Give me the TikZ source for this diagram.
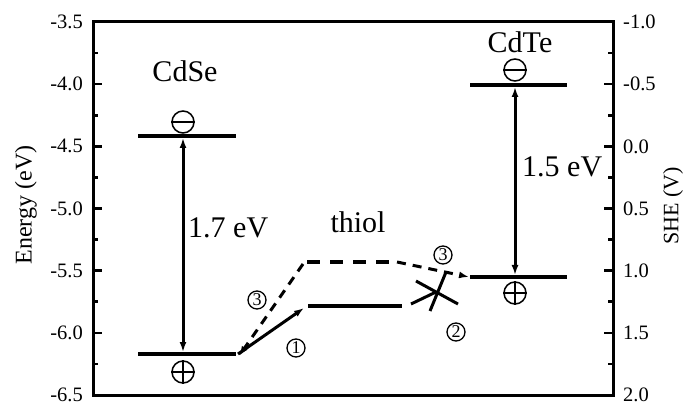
\documentclass[tikz,border=0pt]{standalone}
\usepackage{fontspec}
\setmainfont{Liberation Serif}
\usetikzlibrary{arrows.meta}
\tikzset{mytip/.tip={Latex[length=10pt,width=7pt]}}
\begin{document}
\begin{tikzpicture}[x=1pt,y=-1pt,
  frame/.style={line width=3pt},
  tick/.style={line width=2.6pt},
  level/.style={line width=3.2pt},
  gap/.style={line width=3pt},
  trans/.style={line width=3pt},
  dashtrans/.style={line width=3pt,dash pattern=on 9pt off 7pt},
  ticklab/.style={font=\fontsize{20.5}{22}\selectfont,inner sep=0pt},
  axlab/.style={font=\fontsize{22}{24}\selectfont,rotate=90,inner sep=0pt},
  biglab/.style={font=\fontsize{30}{32}\selectfont,inner sep=0pt},
  charge/.style={circle,draw,line width=1.5pt,minimum size=22pt,inner sep=0pt},
  num/.style={circle,draw,line width=1.3pt,minimum size=18pt,inner sep=0pt,font=\fontsize{18}{18}\selectfont}
]
\useasboundingbox (0,0) rectangle (687,411);
% frame
\draw[frame] (93,22) rectangle (613,395);
% ticks and labels
\foreach \k/\l/\r in {0/-3.5/-1.0,1/-4.0/-0.5,2/-4.5/0.0,3/-5.0/0.5,4/-5.5/1.0,5/-6.0/1.5,6/-6.5/2.0}{
  \pgfmathsetmacro{\yy}{22+\k*62.1667}
  \draw[tick] (93,\yy) -- (102,\yy);
  \draw[tick] (613,\yy) -- (604,\yy);
  \node[ticklab,anchor=east] (ll\k) at (83,\yy) {\l};
  \node[ticklab,anchor=west] (rl\k) at (623,\yy) {\r};
}
\foreach \k in {0,...,5}{
  \pgfmathsetmacro{\yy}{22+31.083+\k*62.1667}
  \draw[tick] (93,\yy) -- (98,\yy);
  \draw[tick] (613,\yy) -- (608,\yy);
}
\node[axlab,font=\fontsize{24}{26}\selectfont] (ylab) at (26,205) {Energy (eV)};
\node[axlab] (slab) at (673,206) {SHE (V)};

% CdSe
\node[biglab] (cdse) at (185,71) {CdSe};
\coordinate (seCBl) at (138,136); \coordinate (seCBr) at (236,136);
\coordinate (seVBl) at (138,354); \coordinate (seVBr) at (236,354);
\draw[level] (seCBl) -- (seCBr);
\draw[level] (seVBl) -- (seVBr);
\coordinate (seA) at (183,138); \coordinate (seB) at (183,352);
\draw[gap,mytip-mytip] (seA) -- (seB);
\node[charge] (seM) at (183,122) {};
\draw[line width=1.5pt] (seM.west) -- (seM.east);
\node[charge] (seP) at (183,372) {};
\draw[line width=1.5pt] (seP.west) -- (seP.east) (seP.north) -- (seP.south);
\node[biglab,anchor=west] (g1) at (188,228) {1.7 eV};

% thiol
\node[biglab] (thiol) at (358,222) {thiol};
\coordinate (thSl) at (308,306); \coordinate (thSr) at (402,306);
\coordinate (thDl) at (307,262); \coordinate (thDr) at (395,262);
\draw[level] (thSl) -- (thSr);
\draw[level,dash pattern=on 13pt off 10pt] (thDl) -- (thDr);
\coordinate (t1a) at (238,354); \coordinate (t1b) at (304,308);
\draw[trans,-mytip] (t1a) -- (t1b);
\coordinate (t3a) at (303,264); \coordinate (t3b) at (239,356);
\draw[dashtrans,-mytip] (t3a) -- (t3b);

% CdTe
\node[biglab] (cdte) at (520,42) {CdTe};
\coordinate (teCBl) at (470,85); \coordinate (teCBr) at (567,85);
\coordinate (teVBl) at (470,277); \coordinate (teVBr) at (567,277);
\draw[level] (teCBl) -- (teCBr);
\draw[level] (teVBl) -- (teVBr);
\coordinate (teA) at (515,87); \coordinate (teB) at (515,275);
\draw[gap,mytip-mytip] (teA) -- (teB);
\node[charge] (teM) at (515,70) {};
\draw[line width=1.5pt] (teM.west) -- (teM.east);
\node[charge] (teP) at (515,293) {};
\draw[line width=1.5pt] (teP.west) -- (teP.east) (teP.north) -- (teP.south);
\node[biglab,anchor=west] (g2) at (522,167) {1.5 eV};

% hole back-transfer (3) to CdTe and blocked path (2)
\coordinate (h3a) at (397,262); \coordinate (h3b) at (469,277);
\draw[dashtrans,-mytip] (h3a) -- (h3b);
\coordinate (x0) at (411,304); \coordinate (x1) at (436,292);
\draw[trans] (x0) -- (x1);
\coordinate (c1a) at (416,281); \coordinate (c1b) at (458,304);
\coordinate (c2a) at (430,311); \coordinate (c2b) at (446,272);
\draw[trans] (c1a) -- (c1b);
\draw[trans] (c2a) -- (c2b);

% circled numbers
\node[num] (n3a) at (257,300) {3};
\node[num] (n1) at (296,348) {1};
\node[num] (n3b) at (443,255) {3};
\node[num] (n2) at (456,332) {2};
\end{tikzpicture}
\end{document}
